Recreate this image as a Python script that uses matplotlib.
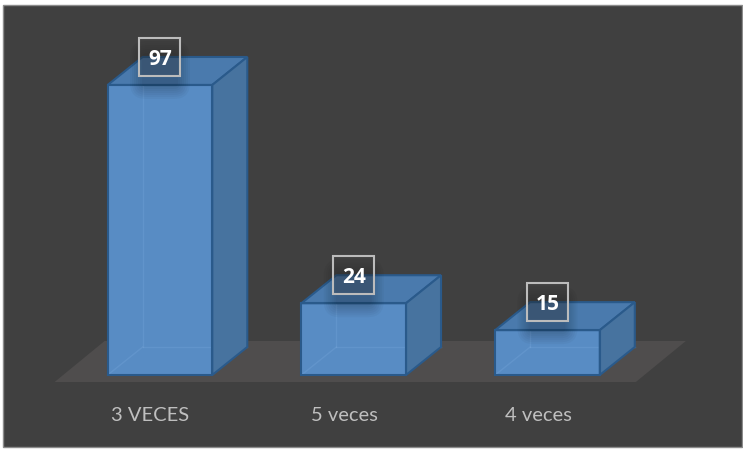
import numpy as np
import matplotlib.pyplot as plt
from matplotlib.patches import Polygon, Rectangle, FancyBboxPatch
from matplotlib.transforms import IdentityTransform

categories = ['3 VECES', '5 veces', '4 veces']
values = [97, 24, 15]

DPI = 100
W, H = 743, 449

BG = '#404040'
FLOOR = '#4f4d4d'
FRONT = '#588cc4'
TOP = '#4a7aad'
SIDE = '#47739f'
EDGE = '#2a5a8b'
TEXT = '#bfbfbf'

# depth vectors in screen pixels (x right, y down)
BAR_DEPTH = (35, -28)
FLOOR_SHIFT = (-8.5, 7)
FLOOR_DEPTH = (50, -41)
BAR_WIDTH = 0.54
BOX_W, BOX_H = 41, 38

plt.rcParams['font.family'] = ['Lato', 'DejaVu Sans']

fig = plt.figure(figsize=(W / DPI, H / DPI), dpi=DPI, facecolor='white')
fig.patches.append(Rectangle((3 / W, 2 / H), 739 / W, 442 / H, transform=fig.transFigure,
                             facecolor=BG, edgecolor='#8c8c8c', lw=1, zorder=-10))

# axes placed so category spacing / value scale give the 3D layout
ax = fig.add_axes([63.1 / W, 74 / H, 581.25 / W, 299 / H])
ax.set_xlim(-0.5, 2.5)
ax.set_ylim(0, 100)
ax.axis('off')
ax.patch.set_visible(False)

ident = IdentityTransform()


def px(x, v, shift=(0, 0)):
    p = ax.transData.transform((x, v))
    return (p[0] + shift[0], p[1] - shift[1])


def add(dx1, dx2):
    return (dx1[0] + dx2[0], dx1[1] + dx2[1])


# floor
back = add(FLOOR_SHIFT, FLOOR_DEPTH)
floor = [px(-0.5, 0, FLOOR_SHIFT), px(2.5, 0, FLOOR_SHIFT), px(2.5, 0, back), px(-0.5, 0, back)]
ax.add_patch(Polygon(floor, closed=True, transform=ident, facecolor=FLOOR, edgecolor='none',
                     zorder=1, clip_on=False))

xs = np.arange(len(values))
ax.bar(xs, values, width=BAR_WIDTH, color=FRONT, edgecolor='none', zorder=3, clip_on=False)

for x, v in zip(xs, values):
    l, r = x - BAR_WIDTH / 2, x + BAR_WIDTH / 2
    fbl, fbr, ftl, ftr = px(l, 0), px(r, 0), px(l, v), px(r, v)
    bbl, bbr, btl, btr = (px(l, 0, BAR_DEPTH), px(r, 0, BAR_DEPTH),
                          px(l, v, BAR_DEPTH), px(r, v, BAR_DEPTH))
    # hidden back edges seen through the front face
    for a, b in [(fbl, bbl), (bbl, btl), (bbl, bbr)]:
        ax.plot([a[0], b[0]], [a[1], b[1]], transform=ident, color='#79a8dc', lw=1,
                alpha=0.3, zorder=4, clip_on=False)
    ax.add_patch(Polygon([ftl, ftr, btr, btl], transform=ident, facecolor=TOP,
                         edgecolor=EDGE, lw=1.5, zorder=5, clip_on=False))
    ax.add_patch(Polygon([fbr, bbr, btr, ftr], transform=ident, facecolor=SIDE,
                         edgecolor=EDGE, lw=1.5, zorder=5, clip_on=False))
    ax.add_patch(Polygon([fbl, fbr, ftr, ftl], transform=ident, facecolor='none',
                         edgecolor=EDGE, lw=1.5, zorder=5, clip_on=False))

    # value box sits at the back edge of the top face
    cx, cy = px(x, v, (0, BAR_DEPTH[1]))
    for k in range(7):
        s = 2 * k
        ax.add_patch(FancyBboxPatch((cx - 18 - s, cy - 30 - s), 36 + 2 * s, 34 + 2 * s,
                                    boxstyle='round,pad=0,rounding_size=%d' % (4 + s),
                                    transform=ident, facecolor='black', edgecolor='none',
                                    alpha=0.03, zorder=6, clip_on=False))
    ax.add_patch(Rectangle((cx - BOX_W / 2, cy - BOX_H / 2), BOX_W, BOX_H, transform=ident,
                           facecolor='#404040', alpha=0.25, edgecolor='none', zorder=7, clip_on=False))
    ax.add_patch(Rectangle((cx - BOX_W / 2, cy - BOX_H / 2), BOX_W, BOX_H, transform=ident,
                           facecolor='none', edgecolor='#bcbcbc', lw=1.5, zorder=7, clip_on=False))

    ax.annotate(str(v), xy=(x, v), xytext=(0, -BAR_DEPTH[1] * 72 / DPI), textcoords='offset points',
                ha='center', va='center_baseline', fontsize=15, fontweight='bold', color='white',
                zorder=8, family=['Open Sans', 'DejaVu Sans'])

for x, name in zip(xs, categories):
    ax.annotate(name, xy=(x, 0), xytext=(-9.5 * 72 / DPI, -46 * 72 / DPI), textcoords='offset points',
                ha='center', va='baseline', fontsize=14.5, color=TEXT)

fig.savefig('out.png', dpi=DPI, facecolor='white')
